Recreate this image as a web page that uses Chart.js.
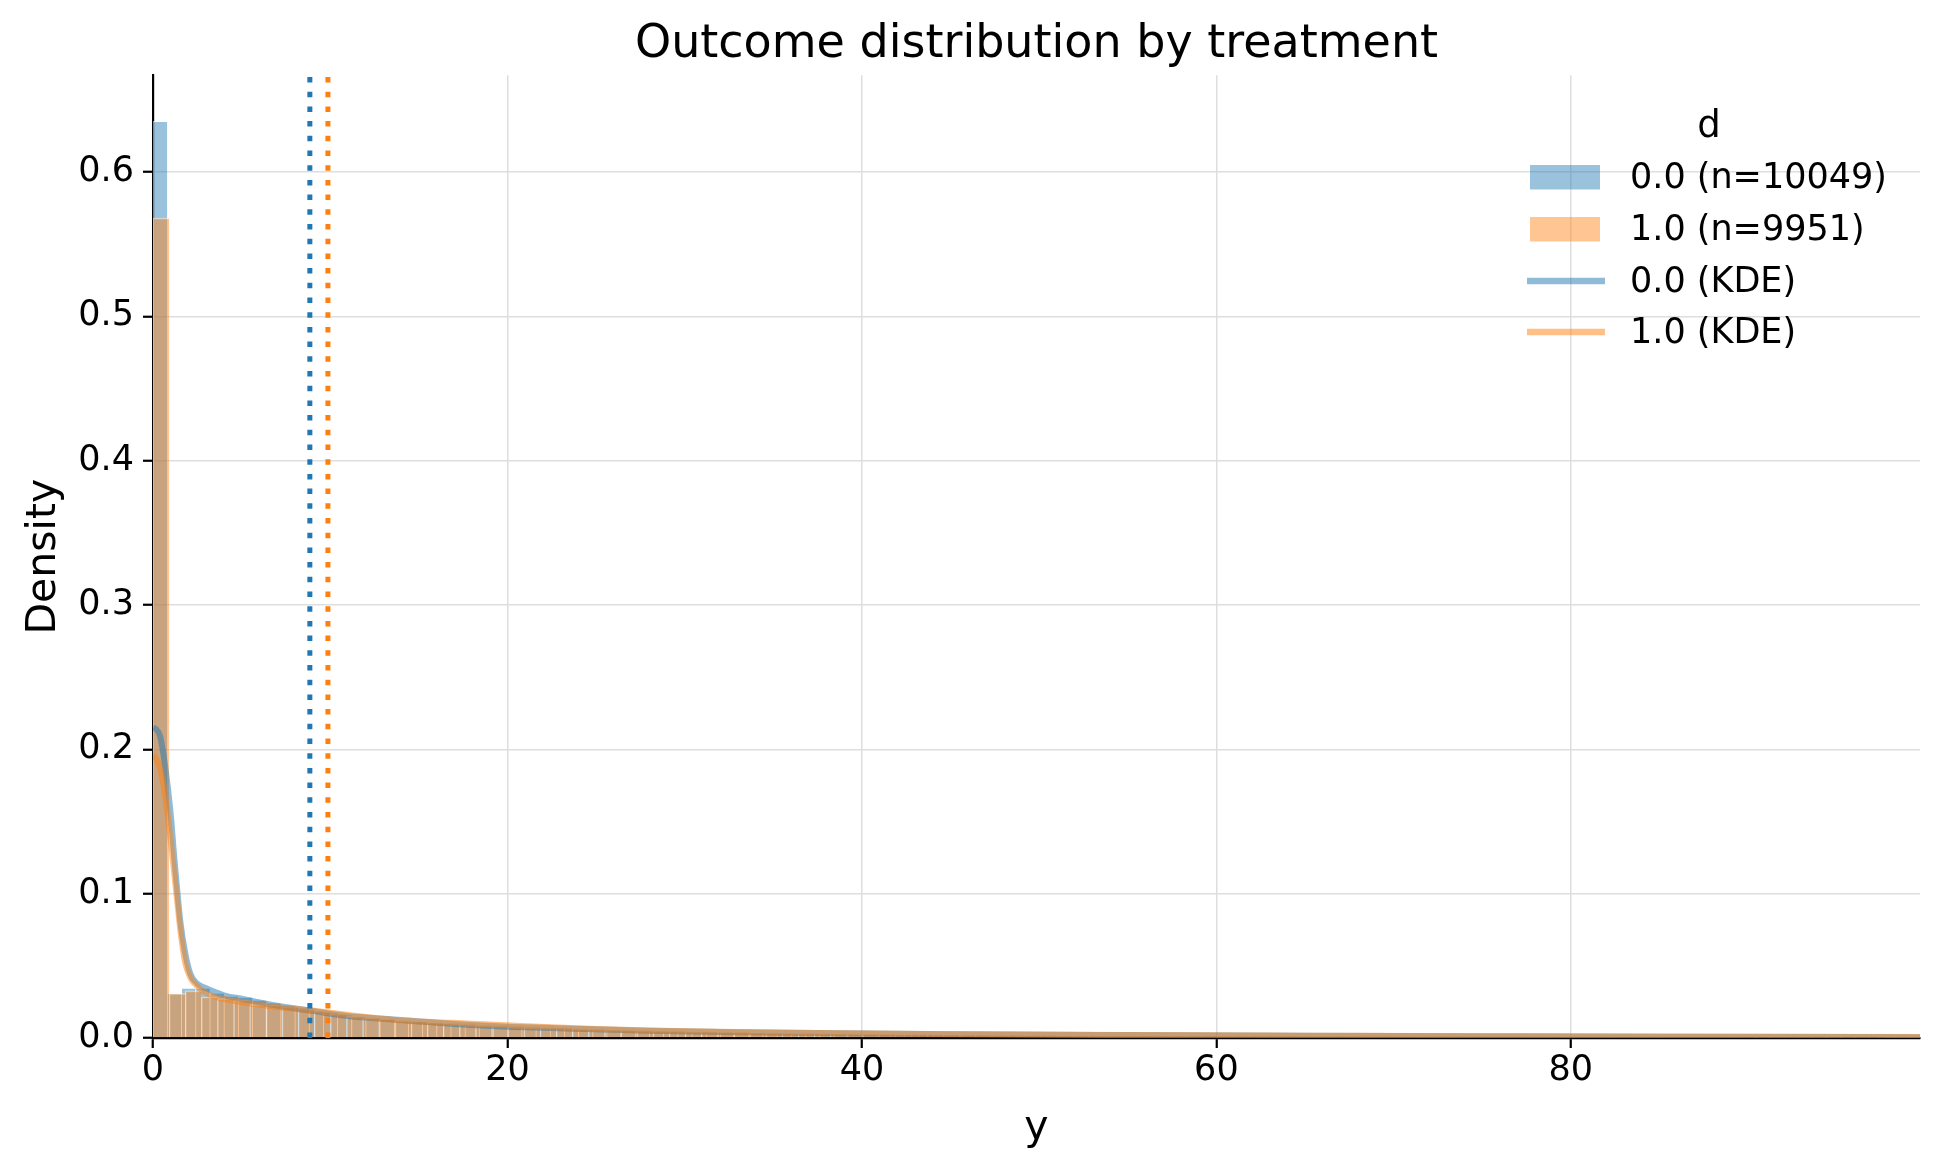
<!DOCTYPE html>
<html>
<head>
<meta charset="utf-8">
<script src="https://cdn.jsdelivr.net/npm/chart.js@4.4.1/dist/chart.umd.min.js"></script>
<style>
  html, body { margin: 0; padding: 0; background: #fff; }
  #wrap { width: 1940px; height: 1170px; }
</style>
</head>
<body>
<div id="wrap"><canvas id="distChart" width="1940" height="1170"></canvas></div>
<script>
// --- data ---
const groups = ['0.0', '1.0'];
const counts = [10049, 9951];
const binWidth0 = 0.8;   // d = 0.0
const binWidth1 = 0.91;  // d = 1.0

// histogram densities, first bin starts at y = 0
const dens0 = [
  0.635, 0.0310, 0.0346, 0.0345, 0.0312, 0.0290, 0.0281, 0.0262, 0.0243, 0.0226,
  0.0211, 0.0192, 0.0176, 0.0162, 0.0149, 0.0139, 0.0131, 0.0121, 0.0116, 0.0107,
  0.0101, 0.0095, 0.0089, 0.0084, 0.0080, 0.0076, 0.0071, 0.0070, 0.0071, 0.0065,
  0.0060, 0.0057, 0.0054, 0.0051, 0.0049, 0.0047, 0.0045, 0.0043, 0.0041, 0.0040,
  0.0039, 0.0037, 0.0036, 0.0034, 0.0033, 0.0031, 0.0030, 0.0029, 0.0028, 0.0027,
  0.0026, 0.0025, 0.0024, 0.0024, 0.0023, 0.0022, 0.0021, 0.0021, 0.0020, 0.0019,
  0.0019, 0.0018, 0.0018, 0.0017, 0.0017, 0.0016, 0.0016, 0.0015, 0.0015, 0.0014,
  0.0014, 0.0014, 0.0013, 0.0013, 0.0013, 0.0012, 0.0012, 0.0012, 0.0011, 0.0011,
  0.0011, 0.0010, 0.0010, 0.0010, 0.0010, 0.0009, 0.0009, 0.0009, 0.0009, 0.0008,
  0.0008, 0.0008, 0.0008, 0.0008, 0.0007, 0.0007, 0.0007, 0.0007, 0.0007, 0.0006,
  0.0006, 0.0006, 0.0006, 0.0006, 0.0006, 0.0005, 0.0005, 0.0005, 0.0005, 0.0005,
  0.0005, 0.0005, 0.0005, 0.0004, 0.0004, 0.0004, 0.0004, 0.0004, 0.0004, 0.0004,
  0.0004, 0.0004, 0.0003, 0.0003, 0.0003
];
const dens1 = [
  0.568, 0.0307, 0.0326, 0.0284, 0.0273, 0.0262, 0.0231, 0.0228, 0.0216, 0.0203,
  0.0184, 0.0168, 0.0150, 0.0140, 0.0131, 0.0119, 0.0116, 0.0108, 0.0104, 0.0098,
  0.0091, 0.0090, 0.0085, 0.0079, 0.0074, 0.0072, 0.0066, 0.0064, 0.0060, 0.0057,
  0.0055, 0.0052, 0.0050, 0.0047, 0.0046, 0.0043, 0.0042, 0.0040, 0.0038, 0.0036,
  0.0035, 0.0034, 0.0032, 0.0031, 0.0030, 0.0029, 0.0028, 0.0027, 0.0026, 0.0025,
  0.0024, 0.0023, 0.0022, 0.0022, 0.0021, 0.0020, 0.0019, 0.0019, 0.0018, 0.0018,
  0.0017, 0.0017, 0.0016, 0.0016, 0.0015, 0.0015, 0.0014, 0.0014, 0.0014, 0.0013,
  0.0013, 0.0012, 0.0012, 0.0012, 0.0011, 0.0011, 0.0011, 0.0010, 0.0010, 0.0010,
  0.0010, 0.0009, 0.0009, 0.0009, 0.0009, 0.0008, 0.0008, 0.0008, 0.0008, 0.0007,
  0.0007, 0.0007, 0.0007, 0.0007, 0.0006, 0.0006, 0.0006, 0.0006, 0.0006, 0.0006,
  0.0005, 0.0005, 0.0005, 0.0005, 0.0005, 0.0005, 0.0005, 0.0004, 0.0004, 0.0004
];

// KDE curves sampled on a common grid
const kdeGrid = [0, 0.15, 0.4, 0.7, 1.0, 1.2, 1.4, 1.55, 1.8, 2.1, 2.5, 3.0, 4.0, 5.0, 7.0, 9.0,
                 11, 14, 17, 20, 22.5, 25, 28, 32, 36, 45, 55, 65, 75, 85, 99.7];
const kde0 = [0.215, 0.2142, 0.209, 0.187, 0.155, 0.125, 0.098, 0.080, 0.060, 0.0446, 0.0376, 0.0344,
              0.0296, 0.0272, 0.0224, 0.0188, 0.0152, 0.0125, 0.0097, 0.0078, 0.0070, 0.0060, 0.0050,
              0.0042, 0.0036, 0.0026, 0.0020, 0.0015, 0.0012, 0.0009, 0.0006];
const kde1 = [0.196, 0.194, 0.187, 0.167, 0.137, 0.114, 0.091, 0.074, 0.053, 0.042, 0.036, 0.031,
              0.027, 0.025, 0.0215, 0.019, 0.016, 0.0122, 0.0105, 0.0088, 0.0074, 0.0062, 0.0052,
              0.0043, 0.0036, 0.0027, 0.0020, 0.0016, 0.0012, 0.0010, 0.0007];

const means = [8.85, 9.87];
const xTicks = [0, 20, 40, 60, 80];
const yTicks = [0, 0.1, 0.2, 0.3, 0.4, 0.5, 0.6];
const xMax = 99.7;
const yMax = 0.667;
const legendTitle = 'd';

// --- styling ---
const FONT = '"DejaVu Sans", sans-serif';
const BLUE = '#1f77b4';
const ORANGE = '#ff7f0e';
const BLUE_FILL = 'rgba(31,119,180,0.45)';
const ORANGE_FILL = 'rgba(255,127,14,0.45)';
const BLUE_LINE = 'rgba(31,119,180,0.5)';
const ORANGE_LINE = 'rgba(255,127,14,0.5)';

const toBars = (dens, w) => dens.map((v, i) => ({ x: (i + 0.5) * w, y: v }));
const toCurve = (ys) => kdeGrid.map((x, i) => ({ x: x, y: ys[i] }));
const vline = (x) => [{ x: x, y: 0 }, { x: x, y: yMax }];

// legend drawn in the upper right, without a frame
const cornerLegend = {
  id: 'cornerLegend',
  afterDraw(chart) {
    const c = chart.ctx;
    const right = chart.chartArea.right;
    const x0 = right - 390;   // patch / line start
    const tx = right - 290;   // text start
    const rows = [177, 229, 281, 332];
    c.save();
    c.fillStyle = '#000';
    c.textBaseline = 'middle';
    c.font = '37px ' + FONT;
    c.textAlign = 'center';
    c.fillText(legendTitle, right - 211, 127);

    const labels = [
      groups[0] + ' (n=' + counts[0] + ')',
      groups[1] + ' (n=' + counts[1] + ')',
      groups[0] + ' (KDE)',
      groups[1] + ' (KDE)'
    ];
    // patches
    [BLUE_FILL, ORANGE_FILL].forEach((col, i) => {
      c.fillStyle = col;
      c.fillRect(x0, rows[i] - 12, 70, 24.5);
    });
    // lines
    [BLUE_LINE, ORANGE_LINE].forEach((col, i) => {
      c.strokeStyle = col;
      c.lineWidth = 6.5;
      c.beginPath();
      c.moveTo(x0 - 3, rows[i + 2]);
      c.lineTo(x0 + 75, rows[i + 2]);
      c.stroke();
    });
    c.fillStyle = '#000';
    c.textAlign = 'left';
    c.font = '35px ' + FONT;
    labels.forEach((t, i) => c.fillText(t, tx, rows[i] + 2));
    c.restore();
  }
};

const barCommon = {
  type: 'bar',
  grouped: false,
  barPercentage: 1,
  categoryPercentage: 1,
  borderColor: 'rgba(255,255,255,0.55)',
  borderWidth: { top: 1, left: 1, right: 0, bottom: 0 },
  borderSkipped: false
};
const lineCommon = {
  type: 'line',
  pointRadius: 0,
  fill: false,
  xAxisID: 'x'
};

const hiddenX = { type: 'linear', display: false, min: 0, max: xMax, offset: false, grid: { offset: false } };

const ctx = document.getElementById('distChart').getContext('2d');
const distChart = new Chart(ctx, {
  type: 'line',
  data: {
    datasets: [
      Object.assign({}, lineCommon, { label: 'mean 0.0', data: vline(means[0]), borderColor: BLUE,
        borderWidth: 5, borderDash: [5.5, 9.2], borderCapStyle: 'butt', tension: 0, order: 0 }),
      Object.assign({}, lineCommon, { label: 'mean 1.0', data: vline(means[1]), borderColor: ORANGE,
        borderWidth: 5, borderDash: [5.5, 9.2], borderCapStyle: 'butt', tension: 0, order: 1 }),
      Object.assign({}, lineCommon, { label: '1.0 (KDE)', data: toCurve(kde1), borderColor: ORANGE_LINE,
        borderWidth: 6, cubicInterpolationMode: 'monotone', order: 2 }),
      Object.assign({}, lineCommon, { label: '0.0 (KDE)', data: toCurve(kde0), borderColor: BLUE_LINE,
        borderWidth: 6, cubicInterpolationMode: 'monotone', order: 3 }),
      Object.assign({}, barCommon, { label: '1.0', data: toBars(dens1, binWidth1), backgroundColor: ORANGE_FILL,
        xAxisID: 'xo', order: 4 }),
      Object.assign({}, barCommon, { label: '0.0', data: toBars(dens0, binWidth0), backgroundColor: BLUE_FILL,
        xAxisID: 'xb', order: 5 })
    ]
  },
  options: {
    responsive: false,
    animation: false,
    devicePixelRatio: 1,
    layout: { padding: { left: 0, right: 20, top: 0, bottom: 0 } },
    plugins: {
      legend: { display: false },
      tooltip: { enabled: false },
      title: {
        display: true,
        fullSize: false,
        text: 'Outcome distribution by treatment',
        color: '#000',
        font: { family: FONT, size: 46, weight: 'normal' },
        padding: { top: 17, bottom: 3 }
      }
    },
    scales: {
      x: {
        type: 'linear',
        min: 0,
        max: xMax,
        offset: false,
        afterFit: (s) => { s.height = 132; },
        afterBuildTicks: (s) => { s.ticks = xTicks.map((v) => ({ value: v })); },
        border: { color: '#000', width: 2.2 },
        grid: { color: '#dedede', lineWidth: 1.5, tickColor: '#000', tickWidth: 2.2, tickLength: 10, offset: false },
        ticks: {
          autoSkip: false,
          maxRotation: 0,
          padding: 2,
          color: '#000',
          font: { family: FONT, size: 35 },
          callback: (v) => String(v)
        },
        title: { display: true, text: 'y', color: '#000', font: { family: FONT, size: 41 }, padding: { top: 0, bottom: 17 } }
      },
      xb: hiddenX,
      xo: Object.assign({}, hiddenX),
      y: {
        type: 'linear',
        min: 0,
        max: yMax,
        afterFit: (s) => { s.width = 153; },
        afterBuildTicks: (s) => { s.ticks = yTicks.map((v) => ({ value: v })); },
        border: { color: '#000', width: 2.2 },
        grid: { color: '#dedede', lineWidth: 1.5, tickColor: '#000', tickWidth: 2.2, tickLength: 10 },
        ticks: {
          padding: 9,
          color: '#000',
          font: { family: FONT, size: 35 },
          callback: (v) => v.toFixed(1)
        },
        title: { display: true, text: 'Density', color: '#000', font: { family: FONT, size: 41 }, padding: { top: 20, bottom: 0 } }
      }
    }
  },
  plugins: [cornerLegend]
});
</script>
</body>
</html>
